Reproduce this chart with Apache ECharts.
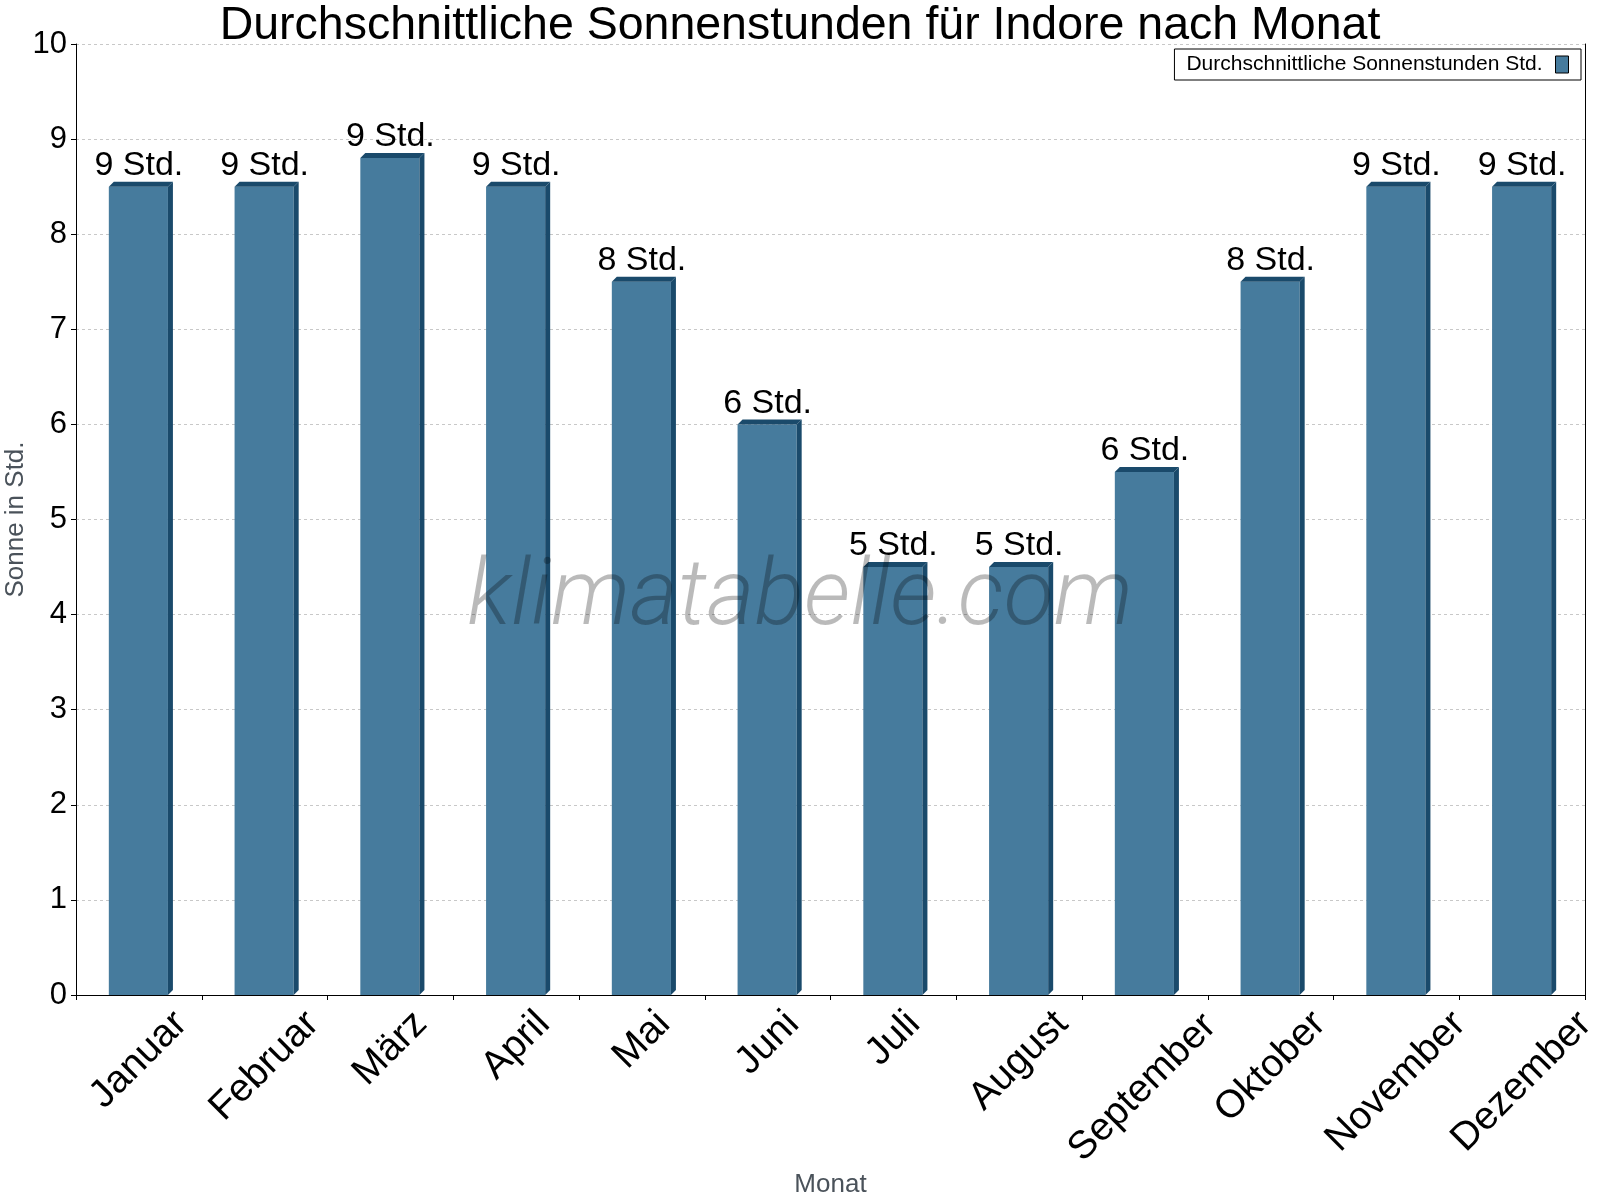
<!DOCTYPE html>
<html><head><meta charset="utf-8">
<script src="https://cdn.jsdelivr.net/npm/echarts@6.0.0/dist/echarts.min.js"></script>
<style>html,body{margin:0;padding:0;background:#fff}#chart{width:1600px;height:1200px}</style>
</head><body><div id="chart"></div>
<script>
const months = ['Januar','Februar','März','April','Mai','Juni','Juli','August','September','Oktober','November','Dezember'];
const sunHours = [8.5, 8.5, 8.8, 8.5, 7.5, 6, 4.5, 4.5, 5.5, 7.5, 8.5, 8.5];
const yMin = 0, yMax = 10, yStep = 1;
const seriesName = 'Durchschnittliche Sonnenstunden Std.';
const titleText = 'Durchschnittliche Sonnenstunden für Indore nach Monat';
const yName = 'Sonne in Std.';
const xName = 'Monat';
const unit = ' Std.';
const watermark = 'klimatabelle.com';

const FONT = '"Liberation Sans", Arial, sans-serif';
const FRONT = '#467B9D', DARK = '#1A4A6B';
const XFS = 39, XMARGIN = -40;

// rotated x labels: bounding box top-aligned under the axis, centred on the category
const mctx = document.createElement('canvas').getContext('2d');
mctx.font = XFS + 'px "Liberation Sans"';
const rich = {};
months.forEach((m, i) => {
  const L = mctx.measureText(m).width;
  const Tc = 13 + (L + 0.72 * XFS) * 0.3535;
  const b = (Tc - XMARGIN) / 1.4142;
  rich['m' + i] = { fontFamily: FONT, fontSize: XFS, color: '#000', lineHeight: XFS,
    padding: [2 * b, Math.max(0, b - L / 2), 0, 0] };
});

const chart = echarts.init(document.getElementById('chart'));
chart.setOption({
  animation: false,
  backgroundColor: '#fff',
  title: { text: titleText, left: 'center', top: -2,
    textStyle: { fontFamily: FONT, fontSize: 46.5, fontWeight: 'normal', color: '#000' } },
  legend: { right: 19, top: 49, align: 'right', orient: 'horizontal',
    backgroundColor: '#fff', borderColor: '#000', borderWidth: 1, borderRadius: 0,
    padding: [5, 12, 5, 12], itemWidth: 13, itemHeight: 17, icon: 'rect',
    itemStyle: { color: FRONT, borderColor: '#000', borderWidth: 1 },
    textStyle: { fontFamily: FONT, fontSize: 21, color: '#000', padding: [0, 8, 0, 0] },
    data: [seriesName] },
  grid: { left: 76, right: 15, top: 44, bottom: 205, containLabel: false, outerBoundsMode: 'none' },
  xAxis: { type: 'category', data: months, boundaryGap: true,
    name: xName, nameLocation: 'middle', nameGap: 177, nameMoveOverlap: false,
    nameTextStyle: { fontFamily: FONT, fontSize: 26, color: '#4a525a' },
    axisLine: { lineStyle: { color: '#000', width: 1 } },
    axisTick: { show: true, length: 5, lineStyle: { color: '#000' } },
    axisLabel: { interval: 0, rotate: 45, margin: XMARGIN, fontFamily: FONT, fontSize: XFS, color: '#000',
      formatter: (val, idx) => '{m' + idx + '|' + val + '}', rich: rich },
    splitLine: { show: false } },
  yAxis: [{ type: 'value', min: yMin, max: yMax, interval: yStep,
    name: yName, nameLocation: 'middle', nameGap: 47, nameMoveOverlap: false,
    nameTextStyle: { fontFamily: FONT, fontSize: 26, color: '#4a525a' },
    axisLine: { show: true, lineStyle: { color: '#000', width: 1 } },
    axisTick: { show: true, length: 5, lineStyle: { color: '#000' } },
    axisLabel: { margin: 9, fontFamily: FONT, fontSize: 31, color: '#000' },
    splitLine: { show: true, lineStyle: { color: '#c8c8c8', type: [3, 3], width: 1 } } },
    { type: 'value', min: yMin, max: yMax, interval: yStep, position: 'right',
    axisLine: { show: true, lineStyle: { color: '#000', width: 1 } },
    axisTick: { show: false }, axisLabel: { show: false }, splitLine: { show: false } }],
  series: [{
    name: seriesName, type: 'custom',
    itemStyle: { color: FRONT },
    data: sunHours.map((v, i) => [i, v]),
    encode: { x: 0, y: 1 },
    renderItem: function (params, api) {
      const i = api.value(0), v = api.value(1);
      const top = api.coord([i, v]);
      const base = api.coord([i, 0]);
      const bw = api.size([1, 0])[0] * 0.47;
      const d = 5;
      const xl = top[0] - bw / 2 - 0.5, xr = xl + bw;
      return { type: 'group', children: [
        { type: 'rect', shape: { x: xl, y: top[1], width: bw, height: base[1] - top[1] },
          style: { fill: FRONT } },
        { type: 'polygon', shape: { points: [[xr, top[1]], [xr + d, top[1] - d], [xr + d, base[1] - d], [xr, base[1]]] },
          style: { fill: DARK } },
        { type: 'polygon', shape: { points: [[xl, top[1]], [xl + d, top[1] - d], [xr + d, top[1] - d], [xr, top[1]]] },
          style: { fill: DARK } },
        { type: 'text', x: top[0], y: top[1] - 4,
          style: { text: Math.round(v) + unit, align: 'center', verticalAlign: 'bottom',
            fontFamily: FONT, fontSize: 34, fill: '#000' } }
      ] };
    }
  }],
  graphic: [{ type: 'text', x: 800, y: 601, z: 100, silent: true,
    style: { text: watermark, align: 'center', verticalAlign: 'middle',
      fontFamily: 'Roboto', fontStyle: 'italic', fontWeight: 300, fontSize: 92,
      fill: 'rgba(0,0,0,0.27)' } }]
});
</script></body></html>
